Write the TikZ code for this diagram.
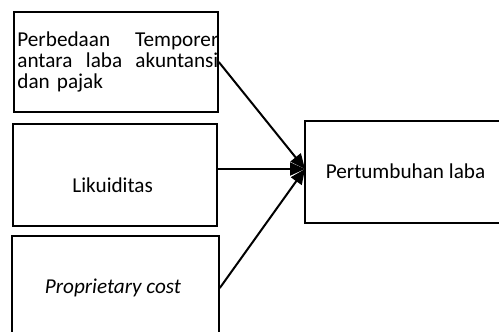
\documentclass[tikz,border=0pt]{standalone}
\usepackage{fontspec}
\setmainfont{Carlito}
\usetikzlibrary{positioning,arrows.meta}

\begin{document}
\begin{tikzpicture}[x=0.5pt,y=-0.5pt,
	every node/.style={font=\fontsize{10.6pt}{10.7pt}\selectfont},
	box/.style={draw,line width=0.8pt,inner sep=0pt},
	lbl/.style={inner sep=0pt},
	arr/.style={line width=1pt,-{Triangle[length=7.5pt,width=6.5pt]}}]

\path[use as bounding box,clip] (0,0) rectangle (499,332);

%\draw[color=black!30](0,0)grid[step=20](499,332);

\foreach \n/\x/\y/\w/\h in {b1/116/62/102/50,b2/115/175/102/51,b3/115.5/288/103.5/52,rb/412/172/107/51}
	\node[box,minimum width=\w pt,minimum height=\h pt] (\n) at (\x,\y) {};

\node[lbl,anchor=north west,text width=100.5pt,align=left] (t1) at (17,31)
	{Perbedaan\hfill Temporer\\ antara\hfill laba\hfill akuntansi\\ dan pajak};
\node[lbl,anchor=base] (t2) at (112.7,192) {Likuiditas};
\node[lbl,anchor=base] (t3) at (113,293) {\itshape Proprietary cost};
\node[lbl,anchor=base] (t4) at (405.5,178) {Pertumbuhan laba};

\coordinate (tip) at (305,169);

\draw[arr] (b1.east) -- (tip);
\draw[arr] (b2.east |- tip) -- (tip);
\draw[arr] (b3.east) -- (tip);

\end{tikzpicture}
\end{document}
